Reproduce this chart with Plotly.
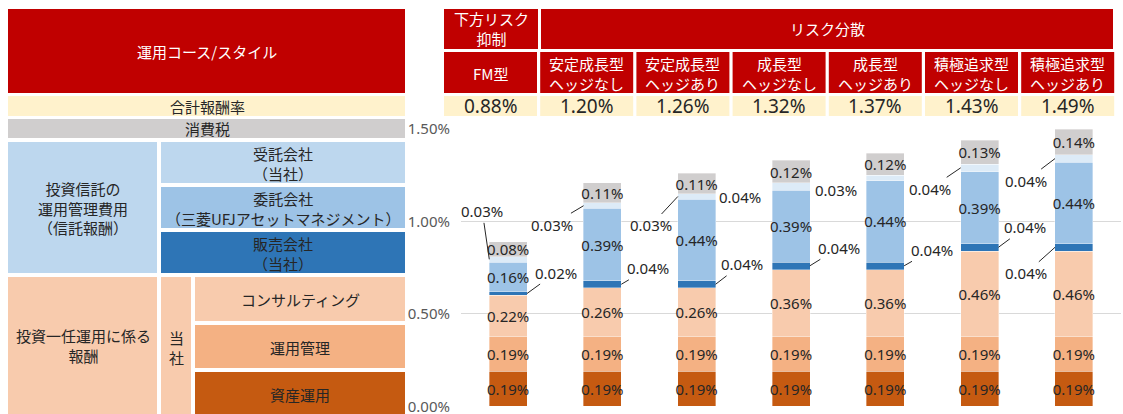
import plotly.graph_objects as go

W, H = 1123, 414

# ---------------- data ----------------
categories = ["FM型", "安定成長型ヘッジなし", "安定成長型ヘッジあり", "成長型ヘッジなし",
              "成長型ヘッジあり", "積極追求型ヘッジなし", "積極追求型ヘッジあり"]
header_line1 = ["FM型", "安定成長型", "安定成長型", "成長型", "成長型", "積極追求型", "積極追求型"]
header_line2 = ["", "ヘッジなし", "ヘッジあり", "ヘッジなし", "ヘッジあり", "ヘッジなし", "ヘッジあり"]
total_rate = [0.88, 1.20, 1.26, 1.32, 1.37, 1.43, 1.49]

asset_mgmt = [0.19, 0.19, 0.19, 0.19, 0.19, 0.19, 0.19]      # 資産運用
operation_mgmt = [0.19, 0.19, 0.19, 0.19, 0.19, 0.19, 0.19]  # 運用管理
consulting = [0.22, 0.26, 0.26, 0.36, 0.36, 0.46, 0.46]      # コンサルティング
distributor = [0.02, 0.04, 0.04, 0.04, 0.04, 0.04, 0.04]     # 販売会社
manager = [0.16, 0.39, 0.44, 0.39, 0.44, 0.39, 0.44]         # 委託会社
trustee = [0.03, 0.03, 0.03, 0.04, 0.03, 0.04, 0.04]         # 受託会社
tax = [0.08, 0.11, 0.11, 0.12, 0.12, 0.13, 0.14]             # 消費税

y_ticks = [0, 0.5, 1.0, 1.5]

# ---------------- style ----------------
RED = "#C00000"
CREAM = "#FFF2CC"
GRAY = "#D0CECE"
TXT = "#262626"
JP = "Noto Sans CJK JP"
NUM = "Noto Sans"

series = [
    ("資産運用", asset_mgmt, "#C55A11", True),
    ("運用管理", operation_mgmt, "#F4B183", True),
    ("コンサルティング", consulting, "#F8CBAD", True),
    ("販売会社", distributor, "#2E75B6", False),
    ("委託会社", manager, "#9DC3E6", True),
    ("受託会社", trustee, "#DDEBF7", False),
    ("消費税", tax, "#D0CECE", True),
]

fig = go.Figure()
for name, vals, col, inside in series:
    fig.add_bar(
        x=categories, y=vals, name=name,
        marker=dict(color=col, line=dict(color="rgba(255,255,255,0.6)", width=0.6)),
        text=[f"{v:.2f}%" for v in vals] if inside else None,
        textposition="inside" if inside else "none",
        insidetextanchor="middle",
        textangle=0,
        constraintext="none",
        textfont=dict(family=NUM, size=15, color=TXT),
        cliponaxis=False,
        hoverinfo="skip",
    )

# leader-line label offsets (pixels): (ax, ay, show_line)
trustee_off = [(-7, -48, True), (-32, 19, True), (-27, 29, True), (-32, 11, False),
               (-30, 12, False), (-31, 21, True), (-29, 22, True)]
dist_off = [(29, -21, 1), (27, -16, 1), (26, -20, 1), (29, -18, 1),
            (28, -16, 1), (27, -20, 1), (-29, 26, -1)]

annotations = []
half = 0.2
for i in range(len(categories)):
    base_d = asset_mgmt[i] + operation_mgmt[i] + consulting[i]
    yd = base_d + distributor[i] / 2
    ax, ay, side = dist_off[i]
    annotations.append(dict(
        x=i + side * half, y=yd, xref="x", yref="y", text=f"{distributor[i]:.2f}%",
        showarrow=True, arrowhead=0, arrowwidth=1, arrowcolor=TXT, ax=ax, ay=ay,
        font=dict(family=NUM, size=15, color=TXT), standoff=0))
    base_t = base_d + distributor[i] + manager[i]
    yt = base_t + trustee[i] / 2
    ax, ay, show = trustee_off[i]
    annotations.append(dict(
        x=i - half, y=yt, xref="x", yref="y", text=f"{trustee[i]:.2f}%",
        showarrow=True, arrowhead=0, arrowwidth=1,
        arrowcolor=TXT if show else "rgba(0,0,0,0)", ax=ax, ay=ay,
        font=dict(family=NUM, size=15, color=TXT), standoff=0))

# ---------------- table (layout) ----------------
shapes = []


def px(x):
    return x / W


def py(y):
    return 1 - y / H


def rect(x0, y0, x1, y1, color):
    shapes.append(dict(type="rect", xref="paper", yref="paper", x0=px(x0), x1=px(x1),
                       y0=py(y1), y1=py(y0), fillcolor=color, line=dict(width=0), layer="below"))


def label(x, y, text, color=TXT, size=15, family=JP):
    annotations.append(dict(x=px(x), y=py(y), xref="paper", yref="paper", text=text,
                            showarrow=False, xanchor="center", yanchor="middle",
                            font=dict(family=family, size=size, color=color)))


# left block
rect(8, 9, 405, 93, RED)
label(207, 51, "運用コース/スタイル", color="white")
rect(8, 96, 405, 116, CREAM)
label(207, 106, "合計報酬率")
rect(8, 119, 405, 138, GRAY)
label(207, 128, "消費税")

rect(8, 142, 157, 273, "#BDD7EE")
label(83, 208, "投資信託の<br>運用管理費用<br>（信託報酬）")
rect(161, 142, 405, 183, "#BDD7EE")
label(283, 163, "受託会社<br>（当社）")
rect(161, 187, 405, 228, "#9DC3E6")
label(283, 208, "委託会社<br>（三菱UFJアセットマネジメント）")
rect(161, 232, 405, 273, "#2E75B6")
label(283, 253, "販売会社<br>（当社）")

rect(8, 277, 157, 416, "#F8CBAD")
label(83, 345, "投資一任運用に係る<br>報酬")
rect(161, 277, 191, 416, "#F8CBAD")
label(176, 347, "当<br>社")
rect(195, 277, 405, 321, "#F8CBAD")
label(300, 299, "コンサルティング")
rect(195, 325, 405, 368, "#F4B183")
label(300, 347, "運用管理")
rect(195, 372, 405, 416, "#C55A11")
label(300, 394, "資産運用")

# top header
rect(444, 9, 538, 49, RED)
label(491, 29, "下方リスク<br>抑制", color="white")
rect(541, 9, 1113, 49, RED)
label(827, 29, "リスク分散", color="white")
col_w, col_step, col_x0 = 93, 96.2, 444
for i in range(len(categories)):
    x0 = col_x0 + i * col_step
    x1 = x0 + col_w
    rect(x0, 52, x1, 93, RED)
    t = header_line1[i] if not header_line2[i] else header_line1[i] + "<br>" + header_line2[i]
    label((x0 + x1) / 2, 73, t, color="white")
    rect(x0, 96, x1, 116, CREAM)
    label((x0 + x1) / 2, 106, f"{total_rate[i]:.2f}%", size=19, family=NUM)

fig.update_layout(
    width=W, height=H,
    margin=dict(l=0, r=0, t=0, b=0, pad=0, autoexpand=False),
    paper_bgcolor="white", plot_bgcolor="white",
    barmode="stack", bargap=0.597, showlegend=False, hovermode=False,
    shapes=shapes, annotations=annotations,
    xaxis=dict(domain=[461 / W, 1121 / W], showticklabels=False, showgrid=False,
               zeroline=False, showline=False, range=[-0.5, 6.5], fixedrange=True,
               automargin=False),
    yaxis=dict(domain=[(H - 406.3) / H, (H - 129) / H], range=[0, 1.5],
               tickvals=y_ticks, ticktext=[f"{v:.2f}%" for v in y_ticks],
               showgrid=True, gridcolor="#D9D9D9", gridwidth=1, zeroline=False,
               showline=False, ticklabelstandoff=10, automargin=False,
               ticklabeloverflow="allow", fixedrange=True,
               tickfont=dict(family=NUM, size=15, color="#595959")),
)

fig.write_html("out.html",
               config={"displayModeBar": False, "staticPlot": True},
               post_script="document.body.style.margin='0';document.body.style.padding='0';")
